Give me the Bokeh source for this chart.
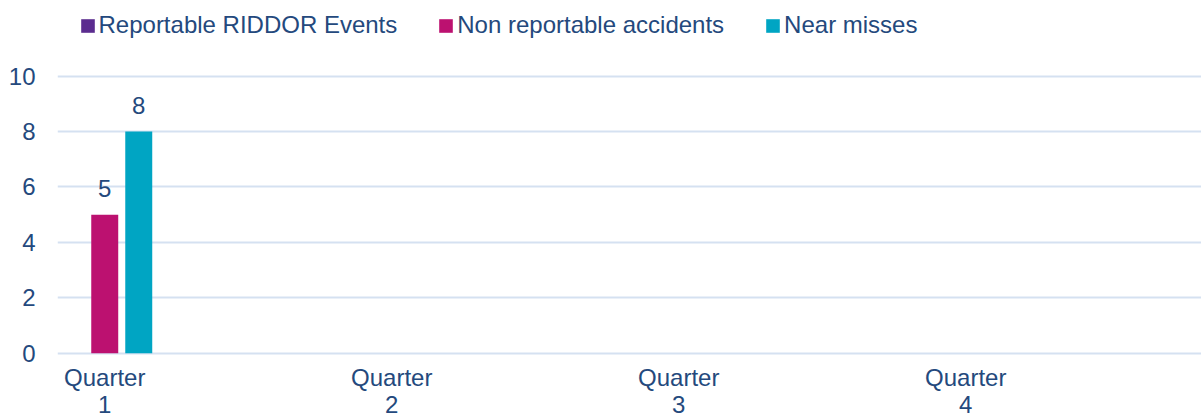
import math
from bokeh.plotting import figure
from bokeh.models import ColumnDataSource, FixedTicker, Legend, LegendItem
from bokeh.transform import dodge
from bokeh.core.properties import value
from bokeh.embed import file_html
from bokeh.resources import INLINE

nan = float("nan")

# ---- data ----
quarters = [1, 2, 3, 4]
quarter_labels = ["Quarter\n1", "Quarter\n2", "Quarter\n3", "Quarter\n4"]
series_names = ["Reportable RIDDOR Events", "Non reportable accidents", "Near misses"]
riddor = [0, nan, nan, nan]
non_reportable = [5, nan, nan, nan]
near_misses = [8, nan, nan, nan]
y_ticks = [0, 2, 4, 6, 8, 10]

# ---- style ----
colors = ["#5B2C8F", "#BC1170", "#00A5C3"]
FONT = "Liberation Sans"
TXT = "#24497D"
GRID = "#D5E1F1"
BAR_W = 0.094
STEP = 0.1185


def present(v):
    return v is not None and not (isinstance(v, float) and math.isnan(v)) and v != 0


p = figure(width=1201, height=419,
           x_range=(0.8354, 4.8214), y_range=(-2.394, 12.733),
           output_backend="svg", toolbar_location=None,
           x_axis_location=None,
           min_border_left=57, min_border_right=0,
           min_border_top=0, min_border_bottom=0)
p.outline_line_color = None
p.background_fill_color = "white"
p.border_fill_color = "white"

# grid
p.xgrid.visible = False
p.ygrid.ticker = FixedTicker(ticks=y_ticks)
p.ygrid.grid_line_color = GRID
p.ygrid.grid_line_width = 2

src = ColumnDataSource(dict(x=quarters, riddor=riddor, nonrep=non_reportable, near=near_misses))

renderers = []
for i, (col, name) in enumerate(zip(["riddor", "nonrep", "near"], series_names)):
    off = (i - 1) * STEP
    r = p.vbar(x=dodge("x", off), top=col, width=BAR_W, bottom=0, source=src,
               fill_color=colors[i], line_color=None)
    renderers.append(r)
    vals = src.data[col]
    lx = [q for q, v in zip(quarters, vals) if present(v)]
    ly = [v for v in vals if present(v)]
    if lx:
        lsrc = ColumnDataSource(dict(x=lx, y=ly, t=[str(v) for v in ly]))
        p.text(x=dodge("x", off), y="y", text="t", source=lsrc,
               text_align="center", text_baseline="alphabetic", y_offset=-26,
               text_font=value(FONT), text_font_size="24px", text_color=TXT)

# category labels under the zero line
csrc = ColumnDataSource(dict(x=quarters, y=[0] * len(quarters), t=quarter_labels))
p.text(x="x", y="y", text="t", source=csrc,
       text_align="center", text_baseline="top", y_offset=11,
       text_line_height=1.0,
       text_font=value(FONT), text_font_size="24px", text_color=TXT)

# y axis
p.yaxis.ticker = FixedTicker(ticks=y_ticks)
p.yaxis.axis_line_color = None
p.yaxis.major_tick_line_color = None
p.yaxis.minor_tick_line_color = None
p.yaxis.major_tick_out = 0
p.yaxis.major_tick_in = 0
p.yaxis.major_label_standoff = 22
p.yaxis.major_label_text_font = FONT
p.yaxis.major_label_text_font_size = "24px"
p.yaxis.major_label_text_color = TXT

# legend
legend = Legend(items=[LegendItem(label=n, renderers=[r]) for n, r in zip(series_names, renderers)],
                orientation="horizontal", location=(21.5, 380),
                glyph_width=17, glyph_height=17, label_standoff=3, spacing=40,
                padding=0, margin=0, border_line_color=None, background_fill_alpha=0,
                label_text_font=FONT, label_text_font_size="24px", label_text_color=TXT)
p.add_layout(legend)

open("out.html", "w").write(file_html(p, INLINE))
